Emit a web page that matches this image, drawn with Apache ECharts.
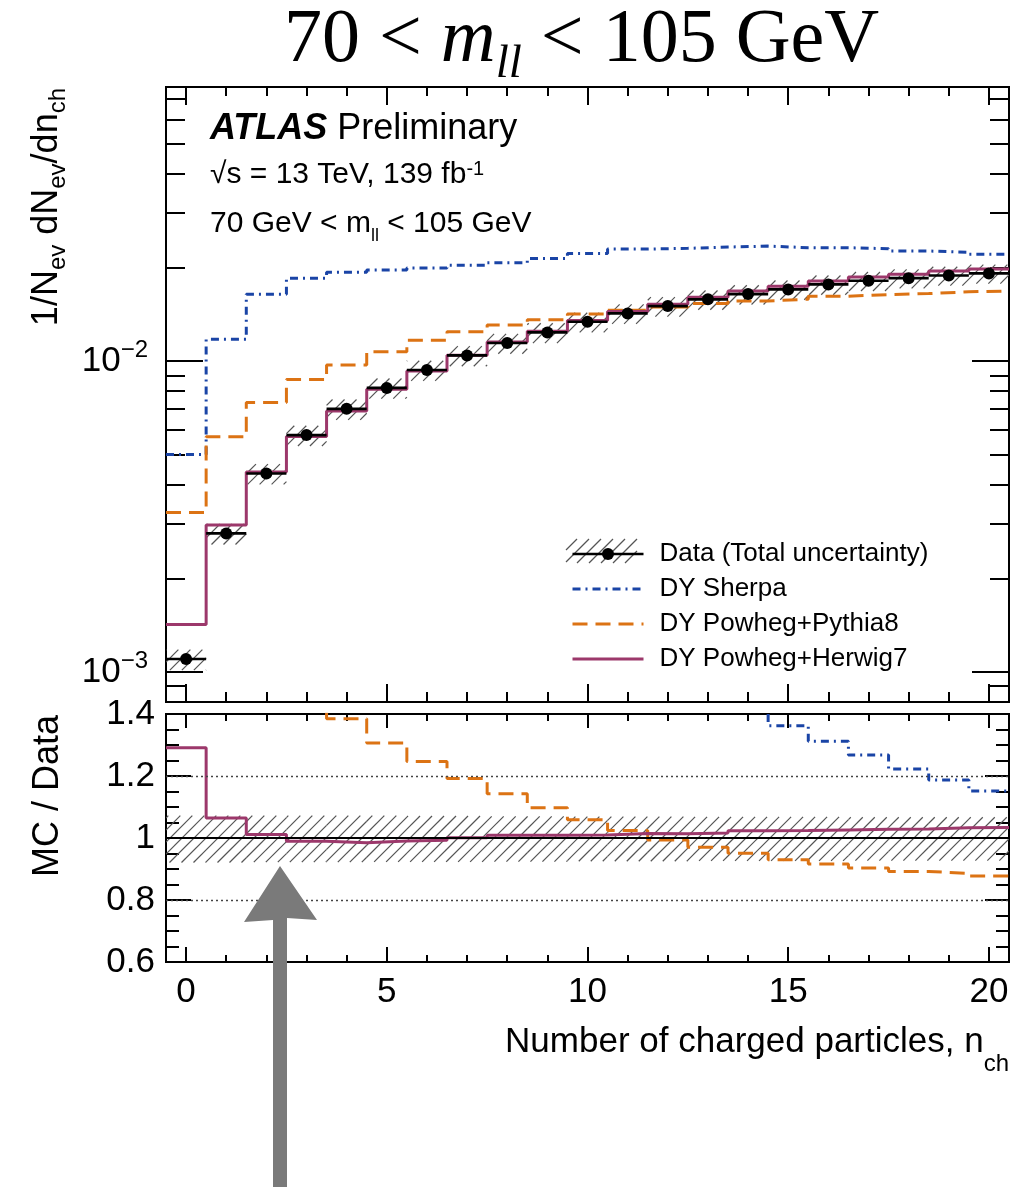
<!DOCTYPE html>
<html><head><meta charset="utf-8">
<script src="https://cdn.jsdelivr.net/npm/echarts@6/dist/echarts.min.js"></script>
<style>html,body{margin:0;padding:0;background:#fff}#c{width:1011px;height:1187px}</style>
</head><body><div id="c"></div>
<script>
// ---------------- data ----------------
const nch = [0,1,2,3,4,5,6,7,8,9,10,11,12,13,14,15,16,17,18,19,20];
const dataVal = [0.00110,0.00279,0.00435,0.00578,0.00702,0.00820,0.00936,0.01043,0.01143,0.01237,0.01338,0.01424,0.01503,0.01580,0.01643,0.01701,0.01765,0.01813,0.01849,0.01886,0.01915];
const dataErrUp = [0.072,0.072,0.072,0.072,0.072,0.072,0.071,0.071,0.070,0.070,0.069,0.069,0.069,0.068,0.068,0.068,0.068,0.067,0.067,0.067,0.067];
const dataErrDn = [0.079,0.079,0.078,0.078,0.078,0.077,0.077,0.077,0.076,0.076,0.075,0.075,0.075,0.074,0.074,0.074,0.074,0.073,0.073,0.073,0.073];
const sherpa = [0.00501,0.01175,0.01640,0.01846,0.01930,0.01963,0.01995,0.02036,0.02072,0.02140,0.02220,0.02293,0.02306,0.02328,0.02344,0.02317,0.02316,0.02299,0.02261,0.02239,0.02206];
const pythia = [0.00326,0.00571,0.00736,0.00873,0.00972,0.01071,0.01167,0.01243,0.01306,0.01358,0.01417,0.01458,0.01493,0.01533,0.01562,0.01582,0.01617,0.01637,0.01649,0.01671,0.01681];
const herwig = [0.00142,0.00297,0.00440,0.00572,0.00691,0.00812,0.00929,0.01044,0.01153,0.01248,0.01351,0.01445,0.01524,0.01605,0.01682,0.01742,0.01811,0.01864,0.01903,0.01948,0.01980];

const xMajorTicks = [0,5,10,15,20];
const xMinorTicks = [1,2,3,4,6,7,8,9,11,12,13,14,16,17,18,19];
const topMajorTicks = [0.001,0.01];
const topMinorTicks = [0.0009,0.002,0.003,0.004,0.005,0.006,0.007,0.008,0.009,0.02,0.03,0.04,0.05,0.06,0.07];
const ratioMajorTicks = [0.6,0.8,1.0,1.2,1.4];
const ratioMinorTicks = [0.65,0.7,0.75,0.85,0.9,0.95,1.05,1.1,1.15,1.25,1.3,1.35];
const ratioRefLines = [1.2,0.8];

const names = ['Data (Total uncertainty)','DY Sherpa','DY Powheg+Pythia8','DY Powheg+Herwig7'];

// ---------------- styles ----------------
const C_SH = '#1a44a6', C_PY = '#dc7314', C_HW = '#9c386b';
const DASH_SH = [8,5,2,5], DASH_PY = [15,8];
const SANS = 'Liberation Sans', SERIF = 'Liberation Serif';

// ---------------- helpers ----------------
function steps(vals){ const p=[]; vals.forEach((v,i)=>{p.push([nch[i]-0.5,v]);p.push([nch[i]+0.5,v]);}); return p; }
function ratioOf(mc){ return mc.map((v,i)=>v/dataVal[i]); }
function hatchLines(x0,y0,x1,y1,step){
  const out=[]; const c0=Math.ceil((x0+y0)/step)*step;
  for(let c=c0;c<=x1+y1;c+=step){
    const xa=Math.max(x0,c-y1), xb=Math.min(x1,c-y0);
    if(xb>xa) out.push([xa,c-xa,xb,c-xb]);
  }
  return out;
}
function renderHatch(params, api){
  const x=api.value(0), lo=api.value(1), hi=api.value(2);
  const a=api.coord([x-0.5,hi]), b=api.coord([x+0.5,lo]);
  const segs=hatchLines(a[0],a[1],b[0],b[1],12);
  return {type:'group', children: segs.map(s=>({type:'line', shape:{x1:s[0],y1:s[1],x2:s[2],y2:s[3]}, style:{stroke:'#555',lineWidth:1.2}}))};
}
function renderBar(params, api){
  const x=api.value(0), v=api.value(1);
  const a=api.coord([x-0.5,v]), b=api.coord([x+0.5,v]);
  return {type:'line', shape:{x1:a[0],y1:a[1],x2:b[0],y2:b[1]}, style:{stroke:'#000',lineWidth:2.6}};
}
function xAx(grid,pos,ticks,len,label){
  return {gridIndex:grid,type:'value',min:-0.5,max:20.5,position:pos,
    axisLine:{show:true,onZero:false,lineStyle:{color:'#000',width:2}},
    axisTick:{show:true,inside:true,length:len,customValues:ticks,lineStyle:{color:'#000',width:2}},
    axisLabel: label ? Object.assign({show:true,customValues:ticks,color:'#000',fontFamily:SANS,fontSize:35,margin:13},label) : {show:false},
    splitLine:{show:false}};
}
function yAx(grid,pos,type,min,max,ticks,len,label){
  return {gridIndex:grid,type:type,min:min,max:max,position:pos,logBase:10,
    axisLine:{show:true,onZero:false,lineStyle:{color:'#000',width:2}},
    axisTick:{show:true,inside:true,length:len,customValues:ticks,lineStyle:{color:'#000',width:2}},
    axisLabel: label ? Object.assign({show:true,customValues:ticks,color:'#000',fontFamily:SANS,fontSize:35},label) : {show:false},
    splitLine:{show:false}};
}

const chart = echarts.init(document.getElementById('c'), null, {renderer:'canvas'});

const legendHatch = hatchLines(566,539,637,563,12).map(s=>({type:'line',z:1,shape:{x1:s[0],y1:s[1],x2:s[2],y2:s[3]},style:{stroke:'#555',lineWidth:1.2}}));

const option = {
  animation:false,
  backgroundColor:'#fff',
  grid:[
    {left:166,top:87,width:843,height:615,outerBoundsMode:'none',containLabel:false},
    {left:166,top:714,width:843,height:248,outerBoundsMode:'none',containLabel:false}
  ],
  xAxis:[
    xAx(0,'bottom',xMajorTicks,18), xAx(0,'bottom',xMinorTicks,10),
    xAx(0,'top',xMajorTicks,18), xAx(0,'top',xMinorTicks,9),
    xAx(1,'bottom',xMajorTicks,15,{}), xAx(1,'bottom',xMinorTicks,7),
    xAx(1,'top',xMajorTicks,14), xAx(1,'top',xMinorTicks,7)
  ],
  yAxis:[
    yAx(0,'left','log',0.0008,0.0762,topMajorTicks,37,{margin:18,
      formatter:v=>'{b|10}{s|\u2212'+(-Math.round(Math.log10(v)))+'}',
      rich:{b:{fontSize:35,fontFamily:SANS,color:'#000'},s:{fontSize:24,fontFamily:SANS,color:'#000',padding:[0,0,22,0]}}}),
    yAx(0,'left','log',0.0008,0.0762,topMinorTicks,19),
    yAx(0,'right','log',0.0008,0.0762,topMajorTicks,37),
    yAx(0,'right','log',0.0008,0.0762,topMinorTicks,19),
    yAx(1,'left','value',0.6,1.4,ratioMajorTicks,25,{margin:11,formatter:v=>(Math.abs(v-1)<1e-9?'1':v.toFixed(1))}),
    yAx(1,'left','value',0.6,1.4,ratioMinorTicks,13),
    yAx(1,'right','value',0.6,1.4,ratioMajorTicks,24),
    yAx(1,'right','value',0.6,1.4,ratioMinorTicks,13)
  ],
  legend:{
    orient:'vertical', left:566, top:536, itemWidth:71, itemHeight:15, itemGap:9,
    selectedMode:false, z:5,
    textStyle:{fontFamily:SANS,fontSize:26,color:'#000',padding:[0,0,0,11]},
    data:[
      {name:names[0], itemStyle:{color:'#000',opacity:1}, lineStyle:{color:'#000',width:2.6,type:'solid',opacity:1}},
      {name:names[1], itemStyle:{opacity:0}, lineStyle:{color:C_SH,width:3,type:DASH_SH,opacity:1}},
      {name:names[2], itemStyle:{opacity:0}, lineStyle:{color:C_PY,width:3,type:DASH_PY,opacity:1}},
      {name:names[3], itemStyle:{opacity:0}, lineStyle:{color:C_HW,width:3,type:'solid',opacity:1}}
    ]
  },
  series:[
    // ---- top panel ----
    {type:'custom', name:'hatchTop', xAxisIndex:0, yAxisIndex:0, z:1, silent:true, clip:true,
      renderItem:renderHatch, data:nch.map((x,i)=>[x,dataVal[i]*(1-dataErrDn[i]),dataVal[i]*(1+dataErrUp[i])])},
    {type:'line', name:names[1], xAxisIndex:0, yAxisIndex:0, z:2, silent:true, symbol:'none',
      lineStyle:{color:C_SH,width:3,type:DASH_SH}, itemStyle:{color:C_SH}, data:steps(sherpa)},
    {type:'line', name:names[2], xAxisIndex:0, yAxisIndex:0, z:2, silent:true, symbol:'none',
      lineStyle:{color:C_PY,width:3,type:DASH_PY}, itemStyle:{color:C_PY}, data:steps(pythia)},
    {type:'line', name:names[3], xAxisIndex:0, yAxisIndex:0, z:2, silent:true, symbol:'none',
      lineStyle:{color:C_HW,width:3}, itemStyle:{color:C_HW}, data:steps(herwig)},
    {type:'custom', name:'barsTop', xAxisIndex:0, yAxisIndex:0, z:3, silent:true,
      renderItem:renderBar, data:nch.map((x,i)=>[x,dataVal[i]])},
    {type:'line', name:names[0], xAxisIndex:0, yAxisIndex:0, z:4, silent:true, symbol:'circle', symbolSize:12,
      showSymbol:true, lineStyle:{width:0,opacity:0}, itemStyle:{color:'#000'}, data:nch.map((x,i)=>[x,dataVal[i]])},
    // ---- ratio panel ----
    {type:'custom', name:'hatchRatio', xAxisIndex:4, yAxisIndex:4, z:1, silent:true, clip:true,
      renderItem:renderHatch, data:nch.map((x,i)=>[x,1-dataErrDn[i],1+dataErrUp[i]])},
    {type:'line', name:'ratioSherpa', xAxisIndex:4, yAxisIndex:4, z:3, silent:true, symbol:'none', clip:true,
      lineStyle:{color:C_SH,width:3,type:DASH_SH}, data:steps(ratioOf(sherpa)),
      markLine:{silent:true,symbol:'none',label:{show:false},animation:false,
        data:[
          {yAxis:ratioRefLines[0],lineStyle:{color:'#444',type:[2,3],width:1.3}},
          {yAxis:ratioRefLines[1],lineStyle:{color:'#444',type:[2,3],width:1.3}},
          {yAxis:1,lineStyle:{color:'#000',type:'solid',width:2.2}}
        ]}},
    {type:'line', name:'ratioPythia', xAxisIndex:4, yAxisIndex:4, z:3, silent:true, symbol:'none', clip:true,
      lineStyle:{color:C_PY,width:3,type:DASH_PY}, data:steps(ratioOf(pythia))},
    {type:'line', name:'ratioHerwig', xAxisIndex:4, yAxisIndex:4, z:4, silent:true, symbol:'none', clip:true,
      lineStyle:{color:C_HW,width:3}, data:steps(ratioOf(herwig))}
  ],
  graphic:[
    {type:'group', silent:true, children:legendHatch},
    {type:'text', z:10, x:284, y:41, style:{
      text:'{n|70 < }{i|m}{s|ll}{n| < 105 GeV}', align:'left', verticalAlign:'middle',
      fontFamily:SERIF, fontSize:76, fill:'#000',
      rich:{n:{fontFamily:SERIF,fontSize:76,fill:'#000'}, i:{fontFamily:SERIF,fontSize:76,fontStyle:'italic',fill:'#000'},
            s:{fontFamily:SERIF,fontSize:47,fontStyle:'italic',fill:'#000',padding:[48,0,0,0]}}}},
    {type:'text', z:10, x:210, y:129, style:{
      text:'{a|ATLAS}{p| Preliminary}', align:'left', verticalAlign:'middle', fontFamily:SANS, fontSize:36, fill:'#000',
      rich:{a:{fontFamily:SANS,fontSize:36,fontWeight:'bold',fontStyle:'italic',fill:'#000'}, p:{fontFamily:SANS,fontSize:36,fill:'#000'}}}},
    {type:'text', z:10, x:210, y:175, style:{
      text:'{n|\u221As = 13 TeV, 139 fb}{s|-1}', align:'left', verticalAlign:'middle', fontFamily:SANS, fontSize:30, fill:'#000',
      rich:{n:{fontFamily:SANS,fontSize:30,fill:'#000'}, s:{fontFamily:SANS,fontSize:20,fill:'#000',padding:[0,0,12,0]}}}},
    {type:'text', z:10, x:210, y:224, style:{
      text:'{n|70 GeV < m}{s|ll}{n| < 105 GeV}', align:'left', verticalAlign:'middle', fontFamily:SANS, fontSize:30, fill:'#000',
      rich:{n:{fontFamily:SANS,fontSize:30,fill:'#000'}, s:{fontFamily:SANS,fontSize:18,fill:'#000',padding:[24,0,0,0]}}}},
    {type:'text', z:10, x:47, y:88, rotation:Math.PI/2, style:{
      text:'{n|1/N}{s|ev}{n| dN}{s|ev}{n|/dn}{s|ch}', align:'right', verticalAlign:'middle', fontFamily:SANS, fontSize:36, fill:'#000',
      rich:{n:{fontFamily:SANS,fontSize:36,fill:'#000'}, s:{fontFamily:SANS,fontSize:24,fill:'#000',padding:[22,0,0,0]}}}},
    {type:'text', z:10, x:48, y:715, rotation:Math.PI/2, style:{
      text:'MC / Data', align:'right', verticalAlign:'middle', fontFamily:SANS, fontSize:36, fill:'#000'}},
    {type:'text', z:10, x:1009, y:1042, style:{
      text:'{n|Number of charged particles, n}{s|ch}', align:'right', verticalAlign:'middle', fontFamily:SANS, fontSize:35, fill:'#000',
      rich:{n:{fontFamily:SANS,fontSize:35,fill:'#000'}, s:{fontFamily:SANS,fontSize:24,fill:'#000',padding:[44,0,0,0]}}}},
    {type:'polygon', z:20, silent:true, shape:{points:[[280,866],[317,920],[287,918],[287,1187],[273,1187],[273,920],[244,922]]},
      style:{fill:'#7a7a7a'}}
  ]
};
chart.setOption(option);
</script>
</body></html>
